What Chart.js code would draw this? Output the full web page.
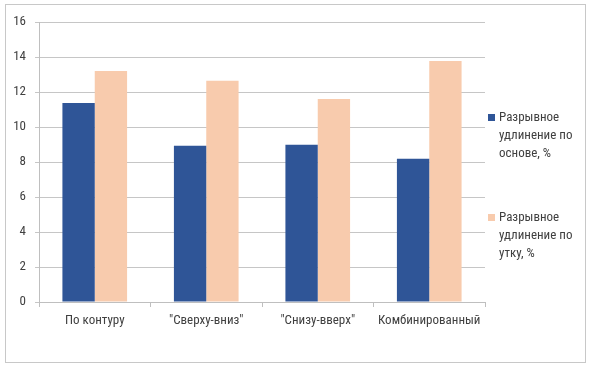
<!DOCTYPE html>
<html><head><meta charset="utf-8">
<script src="https://cdn.jsdelivr.net/npm/chart.js@4"></script>
<style>html,body{margin:0;padding:0;background:#fff}#wrap{width:590px;height:367px}</style>
</head><body><div id="wrap"><canvas id="c" width="590" height="367"></canvas></div>
<script>
const categories = ['По контуру', '"Сверху-вниз"', '"Снизу-вверх"', 'Комбинированный'];
const warpValues = [11.37, 8.93, 8.99, 8.19];
const weftValues = [13.2, 12.65, 11.6, 13.77];
const warpLabel = ['Разрывное', 'удлинение по', 'основе, %'];
const weftLabel = ['Разрывное', 'удлинение по', 'утку, %'];
const yTicks = [0, 2, 4, 6, 8, 10, 12, 14, 16];

const FONT = "'Liberation Sans Narrow', 'Roboto Condensed', Roboto, sans-serif";
const FSIZE = 13;

const frame = {
  id: 'frame',
  beforeDraw(chart) {
    const ctx = chart.ctx;
    ctx.save();
    ctx.fillStyle = '#fff';
    ctx.fillRect(0, 0, chart.width, chart.height);
    ctx.strokeStyle = '#c8c8c8';
    ctx.lineWidth = 1;
    ctx.strokeRect(5.5, 4.5, 580, 358);
    ctx.restore();
  }
};

const sideLegend = {
  id: 'sideLegend',
  afterDraw(chart) {
    const ctx = chart.ctx;
    const x0 = chart.chartArea.right + 3;
    const tops = [118, 218];
    ctx.save();
    ctx.font = FSIZE + 'px ' + FONT;
    ctx.textBaseline = 'middle';
    chart.data.datasets.forEach((ds, i) => {
      const y = tops[i];
      ctx.fillStyle = ds.backgroundColor;
      ctx.fillRect(x0, y - 4, 7, 7);
      ctx.fillStyle = '#404040';
      ds.legendLines.forEach((line, j) => {
        ctx.fillText(line, x0 + 11, y + j * 18);
      });
    });
    ctx.restore();
  }
};

new Chart(document.getElementById('c'), {
  type: 'bar',
  data: {
    labels: categories,
    datasets: [
      { label: warpLabel.join(' '), legendLines: warpLabel, data: warpValues, backgroundColor: '#2f5597', categoryPercentage: 0.58, barPercentage: 1 },
      { label: weftLabel.join(' '), legendLines: weftLabel, data: weftValues, backgroundColor: '#f8cbad', categoryPercentage: 0.58, barPercentage: 1 }
    ]
  },
  options: {
    responsive: false,
    animation: false,
    devicePixelRatio: 1,
    layout: { padding: { left: 0, right: 105, top: 22, bottom: 0 } },
    plugins: { legend: { display: false }, tooltip: { enabled: false } },
    scales: {
      x: {
        grid: { display: true, drawOnChartArea: false, drawTicks: true, tickLength: 5, color: '#bfbfbf', offset: true },
        border: { display: true, color: '#bfbfbf' },
        ticks: { font: { family: FONT, size: FSIZE }, color: '#404040', padding: 6, maxRotation: 0 },
        afterFit(s) { s.height = 65; }
      },
      y: {
        min: 0, max: 16,
        afterBuildTicks(s) { s.ticks = yTicks.map(v => ({ value: v })); },
        grid: { color: '#c6c6c6', tickLength: 4 },
        border: { display: true, color: '#bfbfbf' },
        ticks: { font: { family: FONT, size: FSIZE }, color: '#404040', padding: 9 },
        afterFit(s) { s.width = 39; }
      }
    }
  },
  plugins: [frame, sideLegend]
});
</script>
</body></html>
